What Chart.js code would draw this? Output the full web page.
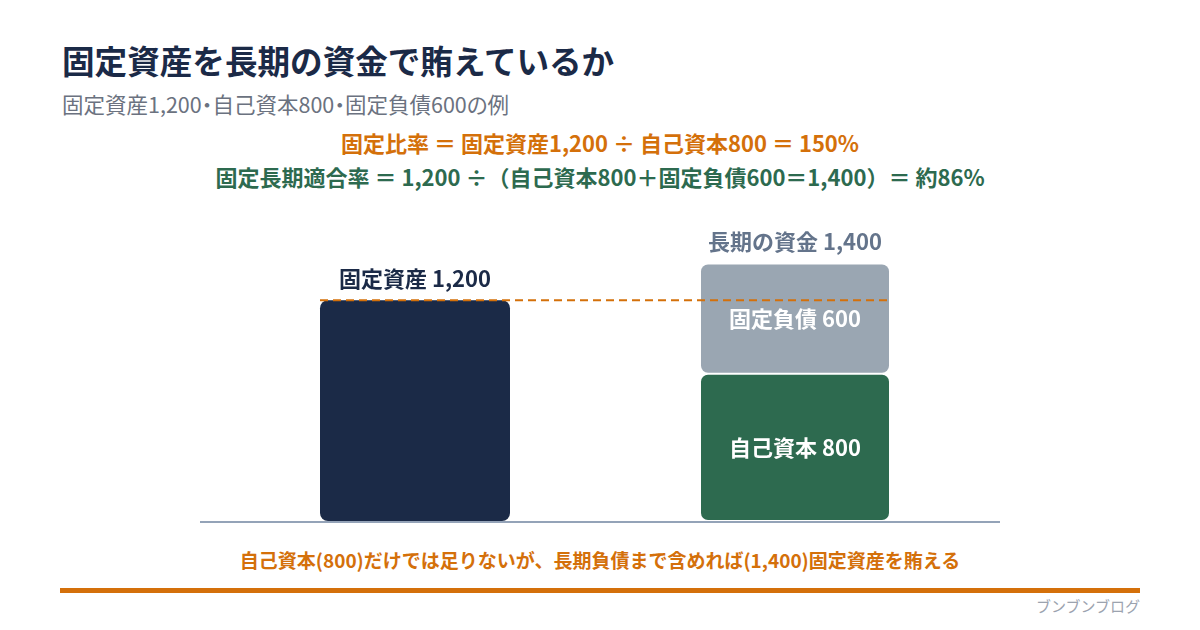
<!DOCTYPE html>
<html lang="ja">
<head>
<meta charset="utf-8">
<script src="https://cdn.jsdelivr.net/npm/chart.js@4"></script>
<style>
    body { margin: 8px; background: #fff; font-family: "Noto Sans CJK JP", "Noto Sans", sans-serif; }
    #page { position: relative; width: 1200px; height: 630px; background: #fff; }
    .abs { position: absolute; white-space: nowrap; }
    #title { left: 54px; top: 32px; font-size: 32.6px; line-height: 40px; font-weight: bold; color: #1b2a47; }
    #subtitle { left: 54px; top: 83px; font-size: 21.5px; line-height: 26px; color: #6b7280; font-feature-settings: "palt"; }
    .center { left: 0; width: 1184px; text-align: center; font-weight: bold; font-size: 22px; line-height: 26px; }
    #f1 { top: 121px; color: #d4700a; }
    #f2 { top: 155px; color: #2d6a4f; }
    #note { top: 539px; color: #d4700a; font-size: 19px; }
    #rule { left: 52px; top: 580px; width: 1080px; height: 5px; background: #d4700a; }
    #brand { right: 68px; top: 588px; font-size: 15px; line-height: 20px; color: #9ca3af; }
    #chartBox { position: absolute; left: 152px; top: 192px; width: 880px; height: 340px; }
</style>
</head>
<body>
<div id="page">
    <div id="title" class="abs">固定資産を長期の資金で賄えているか</div>
    <div id="subtitle" class="abs">固定資産1,200・自己資本800・固定負債600の例</div>
    <div id="f1" class="abs center">固定比率 ＝ 固定資産1,200 ÷ 自己資本800 ＝ 150%</div>
    <div id="f2" class="abs center">固定長期適合率 ＝ 1,200 ÷（自己資本800＋固定負債600＝1,400）＝ 約86%</div>
    <div id="chartBox"><canvas id="chart"></canvas></div>
    <div id="note" class="abs center">自己資本(800)だけでは足りないが、長期負債まで含めれば(1,400)固定資産を賄える</div>
    <div id="rule" class="abs"></div>
    <div id="brand" class="abs">ブンブンブログ</div>
</div>
<script>
const categories = ['固定資産', '長期の資金'];
const fixedAssets = [1200, null];
const equity = [null, 800];
const fixedLiabilities = [null, 600];
const topLabels = ['固定資産 1,200', '長期の資金 1,400'];
const innerLabels = ['自己資本 800', '固定負債 600'];
const yMax = 1500;

const NAVY = '#1b2a47';
const GREEN = '#2d6a4f';
const GRAY = '#9aa6b2';
const ORANGE = '#d4700a';
const FONT = "'Noto Sans CJK JP', sans-serif";

const allRound = { topLeft: 8, topRight: 8, bottomLeft: 8, bottomRight: 8 };

const labelPlugin = {
    id: 'labels',
    afterDatasetsDraw(chart) {
        const { ctx, scales: { x, y } } = chart;
        const assetBar = chart.getDatasetMeta(0).data[0];
        const eqBar = chart.getDatasetMeta(1).data[1];
        const liabBar = chart.getDatasetMeta(2).data[1];

        // baseline
        ctx.save();
        ctx.strokeStyle = '#94a3b8';
        ctx.lineWidth = 2;
        ctx.beginPath();
        ctx.moveTo(x.left - 25, y.getPixelForValue(0) + 1);
        ctx.lineTo(x.right + 15, y.getPixelForValue(0) + 1);
        ctx.stroke();

        // dashed line at the fixed asset level
        const yLine = y.getPixelForValue(fixedAssets[0]);
        ctx.strokeStyle = ORANGE;
        ctx.setLineDash([8, 5]);
        ctx.beginPath();
        ctx.moveTo(assetBar.x - assetBar.width / 2, yLine);
        ctx.lineTo(liabBar.x + liabBar.width / 2, yLine);
        ctx.stroke();
        ctx.setLineDash([]);

        ctx.textAlign = 'center';
        ctx.textBaseline = 'middle';
        ctx.font = 'bold 22px ' + FONT;
        ctx.fillStyle = NAVY;
        ctx.fillText(topLabels[0], assetBar.x, assetBar.y - 22);
        ctx.fillStyle = '#64748b';
        ctx.fillText(topLabels[1], liabBar.x, liabBar.y - 22);

        ctx.fillStyle = '#fff';
        ctx.fillText(innerLabels[0], eqBar.x, (eqBar.y + eqBar.base) / 2);
        ctx.fillText(innerLabels[1], liabBar.x, (liabBar.y + liabBar.base) / 2);
        ctx.restore();
    }
};

new Chart(document.getElementById('chart'), {
    type: 'bar',
    data: {
        labels: categories,
        datasets: [
            { label: '固定資産', data: fixedAssets, backgroundColor: NAVY, borderRadius: allRound, borderSkipped: false },
            { label: '自己資本', data: equity, backgroundColor: GREEN, borderColor: '#fff', borderWidth: 1, borderRadius: allRound, borderSkipped: false },
            { label: '固定負債', data: fixedLiabilities, backgroundColor: GRAY, borderColor: '#fff', borderWidth: 1, borderRadius: allRound, borderSkipped: false }
        ]
    },
    options: {
        responsive: true,
        maintainAspectRatio: false,
        animation: false,
        categoryPercentage: 1,
        barPercentage: 0.5,
        layout: { padding: { left: 65, right: 55, top: 45, bottom: 19 } },
        scales: {
            x: { stacked: true, display: false },
            y: { stacked: true, display: false, min: 0, max: yMax }
        },
        plugins: {
            legend: { display: false },
            tooltip: { enabled: false }
        }
    },
    plugins: [labelPlugin]
});
</script>
</body>
</html>
